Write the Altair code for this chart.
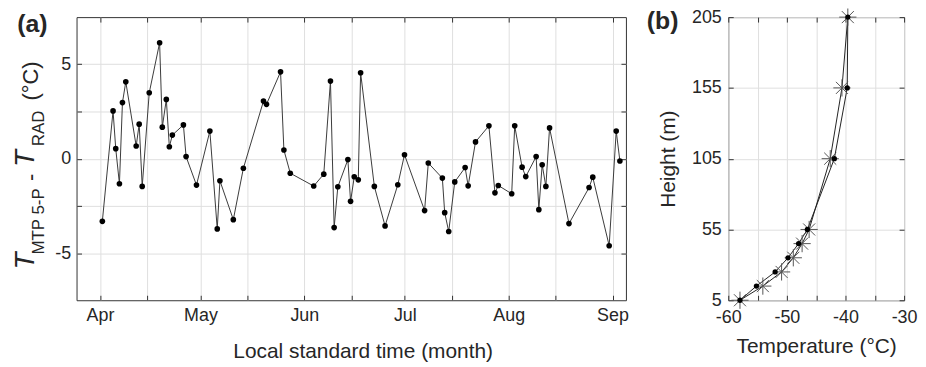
import altair as alt
import pandas as pd

# ---------------- data ----------------
season_start = "2015-04-01"
# panel (a): time of each sounding, in days since 1 April, and temperature difference (°C)
days_since_apr1 = [0.7, 3.9, 4.7, 5.8, 6.7, 7.7, 10.8, 11.7, 12.6, 14.7,
                   17.8, 18.6, 19.8, 20.7, 21.6, 24.9, 25.7, 28.8, 32.8, 35.0,
                   35.8, 39.8, 42.8, 48.8, 49.7, 53.9, 54.9, 56.8, 63.8, 66.8,
                   68.8, 69.9, 71.0, 74.0, 74.8, 75.9, 77.1, 77.8, 81.9, 85.1,
                   88.9, 90.9, 96.9, 98.0, 102.2, 102.9, 104.1, 105.9, 109.0, 109.9,
                   112.1, 116.1, 117.9, 118.9, 122.9, 123.8, 126.0, 127.1, 130.2, 131.0,
                   132.0, 133.1, 134.2, 140.0, 146.0, 147.1, 152.0, 154.1, 155.2]
t_diff = [-3.32, 2.53, 0.53, -1.33, 2.97, 4.07, 0.67, 1.83, -1.47, 3.49,
          6.14, 1.67, 3.14, 0.63, 1.25, 1.79, 0.11, -1.40, 1.46, -3.72,
          -1.17, -3.23, -0.51, 3.05, 2.88, 4.60, 0.46, -0.77, -1.45, -0.82,
          4.11, -3.65, -1.49, -0.05, -2.26, -0.96, -1.12, 4.55, -1.47, -3.56,
          -1.38, 0.21, -2.75, -0.23, -1.03, -2.86, -3.86, -1.23, -0.47, -1.44,
          0.89, 1.74, -1.81, -1.42, -1.86, 1.74, -0.45, -0.95, 0.11, -2.70,
          -0.32, -1.47, 1.63, -3.44, -1.53, -0.98, -4.61, 1.46, -0.12]

# panel (b): profiles
height_m = [5, 15, 25, 35, 45, 55, 105, 155, 205]
temp_dot = [-58.0, -55.2, -52.0, -49.8, -48.0, -46.5, -41.9, -39.7, -39.6]
temp_star = [-58.0, -54.1, -50.9, -48.9, -47.4, -46.2, -42.6, -40.6, -39.6]

month_ticks = [(4, 1), (4, 15), (5, 1), (5, 15), (6, 1), (6, 15), (7, 1), (7, 15),
               (8, 1), (8, 15), (9, 1)]
y_ticks_a = [-5, -2.5, 0, 2.5, 5]
x_ticks_b = [-60, -55, -50, -45, -40, -35, -30]
y_ticks_b = [5, 55, 105, 155, 205]

# ---------------- styling ----------------
FONT = "Liberation Sans"
TXT = "#262626"
BOX = "#333333"
GRID = "#dfdfdf"
W_A, W_B, H = 553, 177, 285

df_a = pd.DataFrame({
    "time": pd.Timestamp(season_start) + pd.to_timedelta(days_since_apr1, unit="D"),
    "diff": t_diff,
})
df_b = pd.DataFrame({
    "h": height_m * 2,
    "temp": temp_dot + temp_star,
    "series": ["dot"] * len(height_m) + ["star"] * len(height_m),
})

x_vals = [alt.DateTime(year=2015, month=m, date=d) for m, d in month_ticks]
xscale_a = alt.Scale(domain=[alt.DateTime(year=2015, month=3, date=25),
                             alt.DateTime(year=2015, month=9, date=5)])
yscale_a = alt.Scale(domain=[-7.5, 7.5], nice=False)


def tick_axis(orient, values):
    return alt.Axis(orient=orient, values=values, labels=False, grid=False, domain=False,
                    ticks=True, tickSize=5, tickColor=BOX, tickWidth=1, offset=-5, title=None)


# ---------------- panel (a) ----------------
main_a = alt.Chart(df_a).mark_line(color="#3a3a3a", strokeWidth=1).encode(
    x=alt.X("time:T", scale=xscale_a,
            axis=alt.Axis(values=x_vals, orient="bottom",
                          labelExpr="date(datum.value) == 1 ? timeFormat(datum.value, '%b') : ''",
                          grid=True, ticks=False, domain=False, labelOverlap=False,
                          labelFlush=False, labelPadding=6,
                          title="Local standard time (month)", titleFontSize=21,
                          titlePadding=17, titleX=288)),
    y=alt.Y("diff:Q", scale=yscale_a,
            axis=alt.Axis(values=y_ticks_a, orient="left",
                          labelExpr="datum.value % 5 == 0 ? toString(datum.value) : ''",
                          grid=True, ticks=False, domain=False, labelPadding=6,
                          title=None)),
)
pts_a = alt.Chart(df_a).mark_circle(color="black", size=32, opacity=1).encode(
    x=alt.X("time:T", axis=None), y=alt.Y("diff:Q", axis=None))
ticks_a1 = alt.Chart(df_a).mark_point(opacity=0).encode(
    x=alt.X("time:T", axis=tick_axis("top", x_vals)),
    y=alt.Y("diff:Q", axis=tick_axis("right", y_ticks_a)))
ticks_a2 = alt.Chart(df_a).mark_point(opacity=0).encode(
    x=alt.X("time:T", axis=tick_axis("bottom", x_vals)),
    y=alt.Y("diff:Q", axis=tick_axis("left", y_ticks_a)))


def label(text, x, y, size, style="normal", weight="normal", angle=270, align="left",
          baseline="alphabetic"):
    return alt.Chart(pd.DataFrame({"t": [text]})).mark_text(
        font=FONT, fontSize=size, fontStyle=style, fontWeight=weight, angle=angle,
        align=align, baseline=baseline, color=TXT,
    ).encode(text="t:N", x=alt.value(x), y=alt.value(y))


ytitle_parts = [
    label("T", -43, 254, 28, style="italic"),
    label("MTP 5-P", -33, 239, 17),
    label("-", -39, 165, 22),
    label("T", -43, 151, 28, style="italic"),
    label("RAD", -33, 130, 17),
    label("(°C)", -39, 84, 22),
]
tag_a = label("(a)", -44.5, 7, 25, weight="bold", angle=0, align="center", baseline="middle")

panel_a = alt.layer(main_a, pts_a, ticks_a1, ticks_a2, *ytitle_parts, tag_a).resolve_axis(
    x="independent", y="independent").properties(width=W_A, height=H)

# ---------------- panel (b) ----------------
xscale_b = alt.Scale(domain=[-60, -30], nice=False)
yscale_b = alt.Scale(domain=[5, 205], nice=False)
ASTER = "M0,-1L0,1M-1,0L1,0M-0.7,-0.7L0.7,0.7M-0.7,0.7L0.7,-0.7"

lines_b = alt.Chart(df_b).mark_line(color="#222222", strokeWidth=1).encode(
    x=alt.X("temp:Q", scale=xscale_b,
            axis=alt.Axis(values=x_ticks_b, orient="bottom",
                          labelExpr="datum.value % 10 == 0 ? toString(datum.value) : ''",
                          grid=True, ticks=False, domain=False, labelOverlap=False,
                          labelFlush=False, labelPadding=8,
                          title="Temperature (°C)", titleFontSize=21, titlePadding=10)),
    y=alt.Y("h:Q", scale=yscale_b,
            axis=alt.Axis(values=y_ticks_b, orient="left", grid=True, ticks=False,
                          domain=False, labelPadding=7, labelOverlap=False,
                          labelFlush=False,
                          title="Height  (m)", titleFontSize=21, titlePadding=13)),
    detail="series:N",
    order=alt.Order("h:Q"),
)
dots_b = alt.Chart(df_b).transform_filter(alt.datum.series == "dot").mark_point(
    shape="circle", filled=True, color="black", size=28, opacity=1).encode(
    x=alt.X("temp:Q", axis=None), y=alt.Y("h:Q", axis=None))
stars_b = alt.Chart(df_b).transform_filter(alt.datum.series == "star").mark_point(
    shape=ASTER, filled=False, stroke="#555555", strokeWidth=1, size=300, opacity=1).encode(
    x=alt.X("temp:Q", axis=None), y=alt.Y("h:Q", axis=None))
ticks_b1 = alt.Chart(df_b).mark_point(opacity=0).encode(
    x=alt.X("temp:Q", axis=tick_axis("top", x_ticks_b)),
    y=alt.Y("h:Q", axis=tick_axis("right", y_ticks_b)))
ticks_b2 = alt.Chart(df_b).mark_point(opacity=0).encode(
    x=alt.X("temp:Q", axis=tick_axis("bottom", x_ticks_b)),
    y=alt.Y("h:Q", axis=tick_axis("left", y_ticks_b)))
tag_b = label("(b)", -66, 3.5, 25, weight="bold", angle=0, align="center", baseline="middle")

panel_b = alt.layer(lines_b, stars_b, dots_b, ticks_b1, ticks_b2, tag_b).resolve_axis(
    x="independent", y="independent").properties(width=W_B, height=H)

chart = alt.hconcat(panel_a, panel_b, spacing=103, bounds="flush").properties(
    padding={"left": 3, "top": -4, "right": 0, "bottom": 0}
).configure(font=FONT).configure_view(stroke=BOX, strokeWidth=1).configure_axis(
    labelFont=FONT, titleFont=FONT, labelFontSize=18, labelColor=TXT, titleColor=TXT,
    titleFontWeight="normal", gridColor=GRID, gridWidth=1,
)

chart.save("out.html", embed_options={"renderer": "svg", "actions": False})
